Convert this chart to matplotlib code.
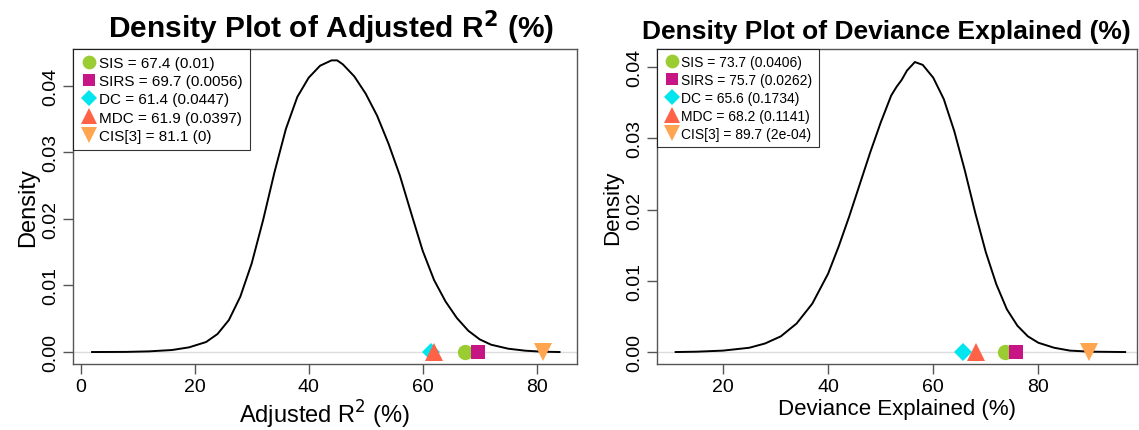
import matplotlib
matplotlib.use("Agg")
import matplotlib.pyplot as plt
from matplotlib.lines import Line2D

plt.rcParams['font.family'] = ['Liberation Sans', 'DejaVu Sans']

# ---- data: density curve of adjusted R^2 (%)
adj_x = [2, 8, 12, 16, 19, 22, 24, 26, 28, 30, 32, 34, 36, 38, 40, 42, 44, 45, 46, 48, 50,
         52, 54, 56, 58, 60, 62, 64, 66, 68, 70, 72, 75, 78, 81, 84]
adj_y = [0.0, 0.00002, 0.0001, 0.0003, 0.0007, 0.0015, 0.0027, 0.0048, 0.0083, 0.0133, 0.0198,
         0.0270, 0.0335, 0.0383, 0.0412, 0.0430, 0.0438, 0.0438, 0.0432, 0.0414, 0.0388,
         0.0355, 0.0313, 0.0265, 0.0208, 0.0152, 0.0108, 0.0076, 0.0051, 0.0032, 0.0019,
         0.0011, 0.0005, 0.0002, 0.00005, 0.0]

# ---- data: density curve of deviance explained (%)
dev_x = [11, 15, 20, 25, 28, 31, 34, 37, 40, 42, 44, 46, 48, 50, 52, 53, 54, 55, 56.5, 58, 60,
         62, 64, 66, 68, 70, 72, 74, 76, 78, 80, 83, 86, 90, 96.5]
dev_y = [0.0, 0.00005, 0.0002, 0.0006, 0.0012, 0.0022, 0.0040, 0.0068, 0.0110, 0.0148, 0.0190,
         0.0235, 0.0280, 0.0322, 0.0360, 0.0372, 0.0382, 0.0395, 0.0407, 0.0403, 0.0385,
         0.0355, 0.0310, 0.0255, 0.0195, 0.0140, 0.0095, 0.0060, 0.0037, 0.0022, 0.0013,
         0.0006, 0.0002, 0.00005, 0.0]

methods = ["SIS", "SIRS", "DC", "MDC", "CIS[3]"]
adj_vals = [67.4, 69.7, 61.4, 61.9, 81.1]
adj_p = ["0.01", "0.0056", "0.0447", "0.0397", "0"]
dev_vals = [73.7, 75.7, 65.6, 68.2, 89.7]
dev_p = ["0.0406", "0.0262", "0.1734", "0.1141", "2e-04"]

colors = ["#9ACD32", "#C71585", "#00E5EE", "#FF6347", "#FFA54F"]
markers = ["o", "s", "D", "^", "v"]
msizes = [11, 10, 9, 13, 13]

fig = plt.figure(figsize=(11.39, 4.31), dpi=100)
ax1 = fig.add_axes([0.0638, 0.1531, 0.4428, 0.7309])
ax2 = fig.add_axes([0.5768, 0.1531, 0.4212, 0.7309])


def panel(ax, xs, ys, vals, pvals, xlim, ylim, title, tsize, tx, xlabel, xlsize, ylsize,
          ticksize, legsize, xticks):
    ax.axhline(0, color="#dddddd", lw=1.0, zorder=1)
    ax.plot(xs, ys, color="black", lw=1.4, zorder=2)
    handles = []
    for m, v, p, c, mk, ms in zip(methods, vals, pvals, colors, markers, msizes):
        ax.plot([v], [0], marker=mk, color=c, markersize=ms, markeredgewidth=0,
                linestyle="none", zorder=3, clip_on=False)
        handles.append(Line2D([], [], marker=mk, color=c, markersize=ms * 0.9,
                              markeredgewidth=0, linestyle="none",
                              label=f"{m} = {v} ({p})"))
    ax.set_xlim(*xlim)
    ax.set_ylim(*ylim)
    ax.set_xticks(xticks)
    ax.set_yticks([0, 0.01, 0.02, 0.03, 0.04])
    ax.set_yticklabels(["0.00", "0.01", "0.02", "0.03", "0.04"], rotation=90, va="center")
    ax.tick_params(direction="out", length=7, width=1, color="#555555",
                   labelsize=ticksize, pad=3)
    for s in ax.spines.values():
        s.set_color("#555555")
        s.set_linewidth(1.0)
    ax.set_title(title, fontsize=tsize, fontweight="bold", pad=8, x=tx)
    ax.set_xlabel(xlabel, fontsize=xlsize, labelpad=2)
    ax.set_ylabel("Density", fontsize=ylsize, labelpad=2)
    leg = ax.legend(handles=handles, loc="upper left", borderaxespad=0, fontsize=legsize,
                    frameon=True, fancybox=False, handletextpad=0.1, handlelength=1.2,
                    borderpad=0.45, labelspacing=0.28)
    leg.get_frame().set_edgecolor("black")
    leg.get_frame().set_linewidth(0.8)
    return ax


panel(ax1, adj_x, adj_y, adj_vals, adj_p, (-1.4, 87.07), (-0.0018, 0.04551),
      r"Density Plot of Adjusted R$^\mathbf{2}$ (%)", 21.5, 0.513, r"Adjusted R$^2$ (%)",
      17, 17, 14, 11, [0, 20, 40, 60, 80])
panel(ax2, dev_x, dev_y, dev_vals, dev_p, (7.45, 98.7), (-0.00168, 0.04253),
      "Density Plot of Deviance Explained (%)", 19, 0.478, "Deviance Explained (%)",
      16, 16, 14, 10, [20, 40, 60, 80])

fig.savefig("out.png", dpi=100)
